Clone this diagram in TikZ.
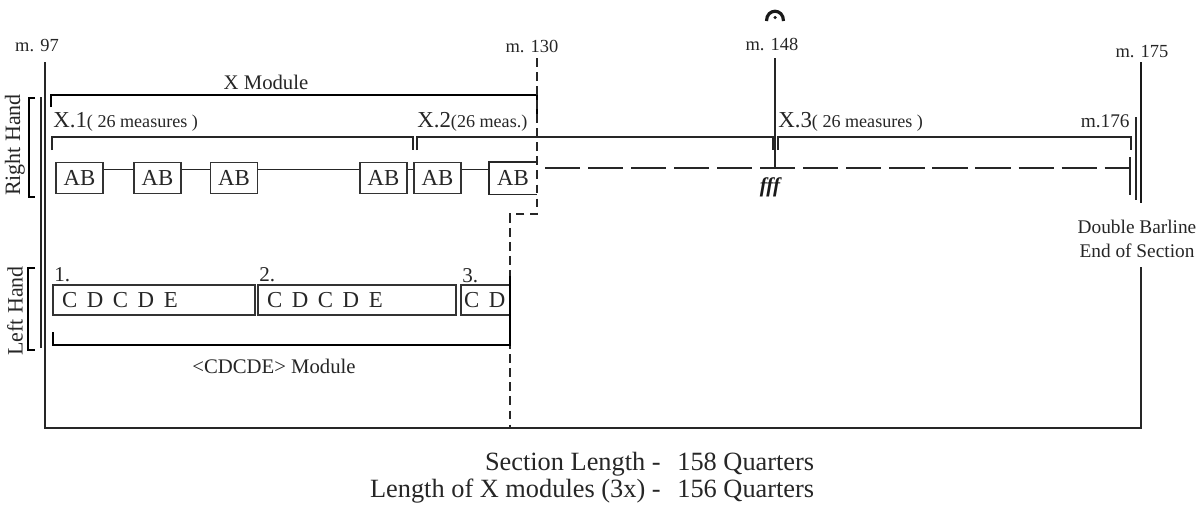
\documentclass[tikz,border=0pt]{standalone}
\usepackage{fontspec}
\setmainfont{Liberation Serif}
\begin{document}
\begin{tikzpicture}[x=0.02cm,y=-0.02cm,
  thinline/.style={draw=black!85,line width=0.7pt},
  bracketthin/.style={draw=black!85,line width=0.9pt},
  bracketthick/.style={draw=black,line width=1.6pt},
  dashv/.style={draw=black!85,line width=0.7pt,dash pattern=on 5pt off 3pt},
  dashh/.style={draw=black!85,line width=0.8pt,dash pattern=on 20pt off 4.5pt},
  abbox/.style={draw=black!80,line width=0.7pt,minimum width=0.94cm,minimum height=0.62cm,inner sep=0pt,font=\fontsize{13}{15}\selectfont,text=black!85},
  lhbox/.style={draw=black!80,line width=0.7pt,minimum height=0.6cm,inner xsep=0.18cm,inner ysep=0pt,align=left,font=\fontsize{13}{15}\selectfont,text=black!85},
  mlabel/.style={inner sep=0pt,font=\fontsize{10.5}{12}\selectfont,text=black!85},
  midlabel/.style={inner sep=0pt,font=\fontsize{11.8}{14}\selectfont,text=black!85},
  handlabel/.style={inner sep=0pt,rotate=90,font=\fontsize{12.5}{14}\selectfont,text=black!85},
  biglabel/.style={inner sep=0pt,font=\fontsize{15}{18}\selectfont,text=black!85},
]
\useasboundingbox (0,0) rectangle (1201,508);

% measure labels
\node[mlabel] (m97) at (37,46) {m. 97};
\node[mlabel] (m130) at (532,46) {m. 130};
\node[mlabel] (m148) at (772,44) {m. 148};
\node[mlabel] (m175) at (1142,52) {m. 175};

% fermata
\draw[line width=1.8pt,black!90] (766.5,21) .. controls (766.5,8) and (783.5,8) .. (783.5,21);
\fill[black!90] (775,17.5) circle[radius=0.035cm];

% frame
\draw[thinline] (45,62) -- (45,428) -- (1141,428) -- (1141,267);
\draw[thinline] (41,97) -- (41,348);

% hand brackets and labels
\draw[bracketthick] (35,98) -- (29,98) -- (29,197) -- (35,197);
\draw[bracketthick] (35,268) -- (28,268) -- (28,350) -- (35,350);
\node[handlabel] (rh) at (15,145) {Right Hand};
\node[handlabel] (lh) at (15,311) {Left Hand};

% X module bracket
\node[midlabel] (xmod) at (266,82) {X Module};
\draw[bracketthick] (51,107) -- (51,95) -- (537,95) -- (537,115);

% X.1, X.2, X.3 brackets
\node[inner sep=0pt,anchor=base west,text=black!85] (x1) at (53,127) {\fontsize{13}{15}\selectfont X.1\fontsize{10.3}{12}\selectfont( 26 measures )};
\node[inner sep=0pt,anchor=base west,text=black!85] (x2) at (417,127) {\fontsize{13}{15}\selectfont X.2\fontsize{10.3}{12}\selectfont(26 meas.)};
\node[inner sep=0pt,anchor=base west,text=black!85] (x3) at (778,127) {\fontsize{13}{15}\selectfont X.3\fontsize{10.3}{12}\selectfont( 26 measures )};
\node[mlabel,anchor=base east,font=\fontsize{11}{13}\selectfont] (m176) at (1130,127) {m.176};
\draw[bracketthin] (52,150) -- (52,137) -- (413,137) -- (413,150);
\draw[bracketthin] (417,150) -- (417,137) -- (773,137) -- (773,150);
\draw[bracketthin] (778,150) -- (778,137) -- (1131,137) -- (1131,150);

% m.148 bar line
\coordinate (b148top) at (775,58);
\coordinate (b148bot) at (775,168);
\draw[draw=black!85,line width=0.8pt] (b148top) -- (b148bot);

% AB boxes
\node[abbox] (ab1) at (79.5,178) {AB};
\node[abbox] (ab2) at (157.5,178) {AB};
\node[abbox] (ab3) at (234,178) {AB};
\node[abbox] (ab4) at (383.5,178) {AB};
\node[abbox] (ab5) at (437.5,178) {AB};
\node[abbox,draw=none] (ab6) at (513,178) {AB};
\draw[thinline] (ab6.north east) -- (ab6.north west) -- (ab6.south west) -- (ab6.south east);
\foreach \a/\b in {ab1/ab2,ab2/ab3,ab3/ab4,ab4/ab5,ab5/ab6}
  \draw[thinline] ([yshift=-0.15cm]\a.north east) -- ([yshift=-0.15cm]\b.north west);

% dashed continuation
\coordinate (dstart) at (545,168);
\coordinate (dend) at (1130,168);
\draw[dashh] (dstart) -- (dend);
\draw[thinline] (1130,157) -- (1130,195);
\node[inner sep=0pt,text=black!90,font=\fontsize{12}{14}\selectfont\bfseries\itshape] (fff) at (770,187) {fff};

% double barline
\draw[draw=black!85,line width=0.6pt] (1136,117) -- (1136,200);
\draw[draw=black!90,line width=1.4pt] (1141,62) -- (1141,203);
\node[inner sep=0pt,align=center,font=\fontsize{11}{13.6}\selectfont,text=black!85] (dbl) at (1137,239) {Double Barline\\End of Section};

% m.130 dashed line
\draw[dashv] (537,58) -- (537,214) -- (510,214) -- (510,428);

% left hand boxes
\node[lhbox,text width=3.68cm] (lh1) at (154,300) {{\spaceskip=0.42em C D C D E}};
\node[lhbox,text width=3.60cm] (lh2) at (357,300) {{\spaceskip=0.42em C D C D E}};
\node[lhbox,inner xsep=0.06cm,text width=0.86cm] (lh3) at (485.5,300) {{\spaceskip=0.42em C D}};
\node[midlabel,anchor=base west,font=\fontsize{12}{14}\selectfont] (n1) at (54,281) {1.};
\node[midlabel,anchor=base west,font=\fontsize{12}{14}\selectfont] (n2) at (259,281) {2.};
\node[midlabel,anchor=base west,font=\fontsize{12}{14}\selectfont] (n3) at (462,282) {3.};
\draw[bracketthick] (53,332) -- (53,345) -- (510,345) -- (510,276);
\node[midlabel] (cdmod) at (274,366) {<CDCDE> Module};

% bottom text
\node[biglabel,anchor=base east] (sl) at (661,470) {Section Length -};
\node[biglabel,anchor=base west] (slv) at (677,470) {158 Quarters};
\node[biglabel,anchor=base east] (xl) at (661,497) {Length of X modules (3x) -};
\node[biglabel,anchor=base west] (xlv) at (677,497) {156 Quarters};
\end{tikzpicture}
\end{document}
